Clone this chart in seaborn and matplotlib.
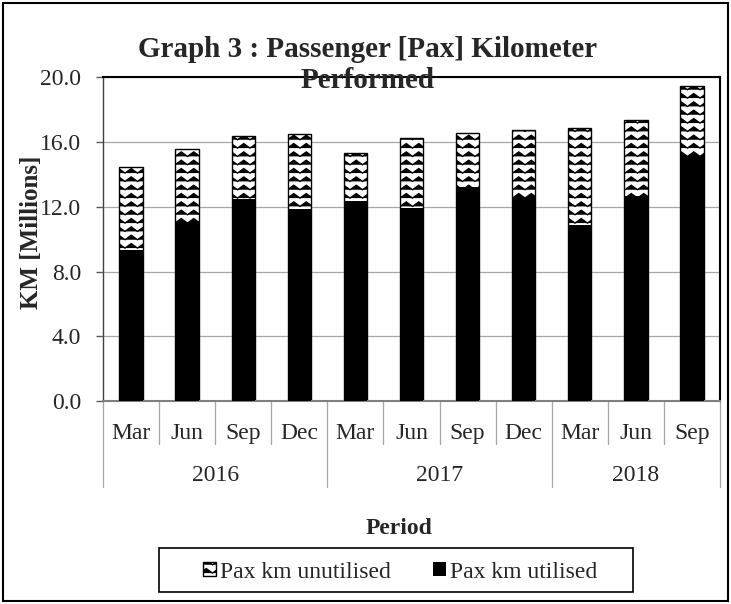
import warnings
warnings.filterwarnings('ignore')
import numpy as np
import pandas as pd
import matplotlib
matplotlib.use('Agg')
import matplotlib.pyplot as plt
import matplotlib.hatch as mhatch
import matplotlib.transforms as mtrans
from matplotlib.path import Path
from matplotlib.patches import Rectangle
import seaborn as sns

# ---------------- data ----------------
months = ["Mar", "Jun", "Sep", "Dec", "Mar", "Jun", "Sep", "Dec", "Mar", "Jun", "Sep"]
years = ["2016", "2016", "2016", "2016", "2017", "2017", "2017", "2017", "2018", "2018", "2018"]
utilised = [9.35, 10.98, 12.49, 11.85, 12.38, 11.93, 13.21, 12.57, 10.90, 12.65, 15.11]
unutilised = [5.10, 4.56, 3.90, 4.62, 2.96, 4.29, 3.32, 4.15, 5.97, 4.73, 4.36]
yticks = [0, 4, 8, 12, 16, 20]
series_names = ["Pax km unutilised", "Pax km utilised"]


# ---------------- zigzag hatch style ----------------
class ZigzagHatch(mhatch.HatchPatternBase):
    def __init__(self, hatch, density):
        n = hatch.count('~')
        self.num_rows = 12 if n else 0
        self.periods = 8
        self.num_vertices = self.num_rows * (2 * self.periods + 1)

    def set_vertices_and_codes(self, vertices, codes):
        npts = 2 * self.periods + 1
        xs = np.linspace(0, 1, npts)
        amp = 0.27 / self.num_rows
        sign = np.where(np.arange(npts) % 2 == 0, -1.0, 1.0)
        for r in range(self.num_rows):
            y0 = (r + 0.5) / self.num_rows
            sl = slice(r * npts, (r + 1) * npts)
            vertices[sl, 0] = xs
            vertices[sl, 1] = y0 + amp * sign
            codes[sl] = Path.LINETO
            codes[r * npts] = Path.MOVETO


mhatch._hatch_types.append(ZigzagHatch)
mhatch._validate_hatch_pattern = lambda h: None

sns.set_style("white")
plt.rcParams['font.family'] = ['Liberation Serif', 'DejaVu Serif']
plt.rcParams['hatch.linewidth'] = 1.0
plt.rcParams['hatch.color'] = 'black'

keys = [f"{m} {y}" for m, y in zip(months, years)]
total = [u + v for u, v in zip(utilised, unutilised)]
df = pd.DataFrame({"period": keys, "utilised": utilised, "total": total})

W, H = 731, 604
fig = plt.figure(figsize=(W / 100, H / 100), dpi=100)
fig.patch.set_facecolor('white')
ax_l, ax_r, ax_t, ax_b = 103, 720, 77.3, 401
ax = fig.add_axes([ax_l / W, 1 - ax_b / H, (ax_r - ax_l) / W, (ax_b - ax_t) / H])

sns.barplot(data=df, x="period", y="total", color="white", edgecolor="black",
            linewidth=1.0, hatch="~~", width=0.415, saturation=1, errorbar=None,
            label=series_names[0], ax=ax, zorder=2)
sns.barplot(data=df, x="period", y="utilised", color="black", edgecolor="black",
            linewidth=0, width=0.415, saturation=1, errorbar=None,
            label=series_names[1], ax=ax, zorder=3)
if ax.get_legend() is not None:
    ax.get_legend().remove()

ax.set_xlim(-0.5, len(keys) - 0.5)
ax.set_ylim(0, 20)
ax.set_yticks(yticks)
ax.set_yticklabels([f"{v:.1f}" for v in yticks])
ax.set_xticks(range(len(keys)))
ax.set_xticklabels(months)
ax.set_xlabel("")
ax.set_ylabel("")
ax.tick_params(axis='x', length=0, pad=16, labelsize=17)
ax.tick_params(axis='y', length=5, width=1, color='#595959', pad=10.8,
               labelsize=17, direction='out', left=True)
ax.yaxis.grid(True, color='#a6a6a6', lw=0.9)
ax.set_axisbelow(True)

for s in ['top', 'right']:
    ax.spines[s].set_color('black')
    ax.spines[s].set_linewidth(1.5)
ax.spines['left'].set_color('#404040')
ax.spines['left'].set_linewidth(1.0)
ax.spines['bottom'].set_color('#7f7f7f')
ax.spines['bottom'].set_linewidth(1.5)
for s in ax.spines.values():
    s.set_visible(True)

# category-axis separators
trans = ax.get_xaxis_transform()
axh = ax_b - ax_t
short_len = 43.3 / axh
long_len = 85.7 / axh
n = len(keys)
bounds = [(-0.5, long_len)]
for i in range(1, n):
    bounds.append((i - 0.5, long_len if years[i] != years[i - 1] else short_len))
bounds.append((n - 0.5, long_len))
for x, L in bounds:
    ax.plot([x, x], [0, -L], transform=trans, color='#a6a6a6', lw=0.9,
            clip_on=False, zorder=1)

# year labels
ytrans = mtrans.offset_copy(trans, fig=fig, x=0, y=-80, units='dots')
uniq = []
for y in years:
    if y not in uniq:
        uniq.append(y)
for y in uniq:
    idx = [i for i, yy in enumerate(years) if yy == y]
    ax.text(np.mean(idx), 0, y, transform=ytrans, ha='center', va='baseline',
            fontsize=17)

# titles
fig.text(368 / W, 1 - 57.3 / H, "Graph 3 : Passenger [Pax] Kilometer",
         ha='center', va='baseline', fontsize=21, fontweight='bold')
fig.text(368 / W, 1 - 88.3 / H, "Performed",
         ha='center', va='baseline', fontsize=21, fontweight='bold')
fig.text(31.5 / W, 1 - 232.5 / H, "KM [Millions]", rotation=90,
         ha='center', va='center', fontsize=18, fontweight='bold')
fig.text(399.3 / W, 1 - 534.3 / H, "Period", ha='center', va='baseline',
         fontsize=17, fontweight='bold')

# legend
handles, labels = ax.get_legend_handles_labels()
fig.legend(handles, labels, loc='center', bbox_to_anchor=(400 / W, 1 - 572 / H),
           ncol=2, frameon=False, fontsize=17, handlelength=0.56,
           handleheight=0.56, handletextpad=0.17, columnspacing=1.77,
           borderpad=0, borderaxespad=0)
fig.add_artist(Rectangle((159.3 / W, 1 - 592.3 / H), (632.7 - 159.3) / W,
                         (592.3 - 548.3) / H, transform=fig.transFigure,
                         fill=False, edgecolor='black', lw=1.2))

# outer chart border
fig.add_artist(Rectangle((3 / W, 3 / H), 725 / W, 598 / H, transform=fig.transFigure,
                         fill=False, edgecolor='black', lw=1.5))

fig.savefig("out.png", dpi=100, facecolor='white')
